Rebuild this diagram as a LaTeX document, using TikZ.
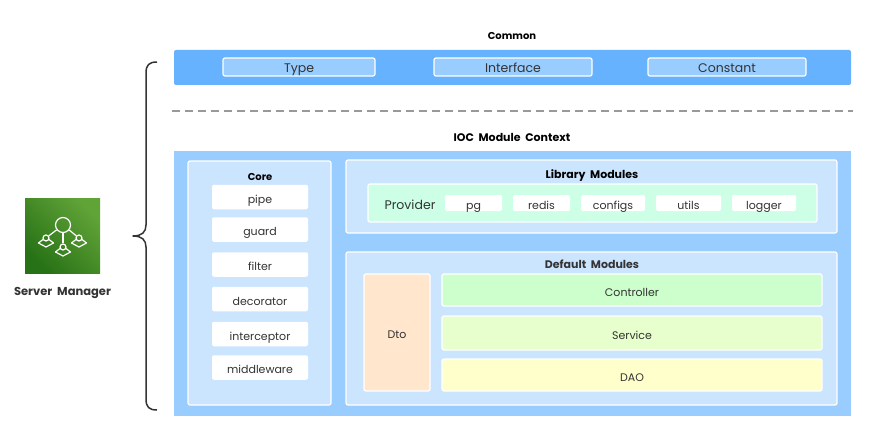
\documentclass[tikz,border=0pt]{standalone}
\usepackage{fontspec}
\setmainfont[WordSpace=2]{Poppins}
\definecolor{barblue}{HTML}{66B2FF}
\definecolor{midblue}{HTML}{99CCFF}
\definecolor{paleblue}{HTML}{CCE5FF}
\definecolor{mintgreen}{HTML}{CCFFE6}
\definecolor{ctrlgreen}{HTML}{CCFFCC}
\definecolor{svcgreen}{HTML}{E6FFCC}
\definecolor{daoyellow}{HTML}{FFFFCC}
\definecolor{dtoorange}{HTML}{FFE6CC}
\definecolor{ink}{HTML}{333333}
\definecolor{iconlight}{HTML}{60A337}
\definecolor{icondark}{HTML}{277116}
\tikzset{
  box/.style={draw=white, line width=1.2pt, rounded corners=2pt, inner sep=0pt, text=ink, text height=12pt, text depth=0pt, font=\fontsize{11}{13}\selectfont},
  title/.style={font=\fontsize{10}{12}\selectfont\bfseries, inner sep=0pt, text height=8pt, text depth=2pt},
  bigtitle/.style={title, font=\fontsize{11}{13}\selectfont\bfseries},
  item/.style={box, draw=none, fill=white},
  layerbox/.style={box, fill=paleblue},
  member/.style={circle, draw=white, line width=1.2pt, minimum size=6pt, inner sep=0pt},
}
\begin{document}
\begin{tikzpicture}[x=1pt, y=-1pt]
  \useasboundingbox (0,0) rectangle (877,441);

  % Common
  \node[title] (common) at (512,37) {Common};
  \node[box, draw=none, fill=barblue, minimum width=677pt, minimum height=35pt] (commonbar) at (512.5,67.5) {};
  \foreach \xpos/\wid/\name in {299/152/Type,513/158/Interface,727/158/Constant} {
    \node[box, fill=midblue, minimum width=\wid pt, minimum height=18pt, font=\fontsize{12.5}{14}\selectfont] (c\name) at (\xpos,67) {\name};
  }

  % Separator
  \coordinate (sepl) at (172,111);
  \coordinate (sepr) at (853,111);
  \draw[line width=1.5pt, color=black!40, dash pattern=on 8pt off 5pt] (sepl) -- (sepr);

  % IOC
  \node[bigtitle] (ioc) at (512,138) {IOC Module Context};
  \node[box, draw=none, rounded corners=0pt, fill=midblue, minimum width=677pt, minimum height=265pt] (iocbg) at (512.5,283.5) {};

  % Core
  \node[layerbox, minimum width=143pt, minimum height=244pt] (core) at (259.5,283) {};
  \node[title] (coretitle) at (260,177) {Core};
  \foreach \ypos/\name in {197/pipe,229.5/guard,264.5/filter,299/decorator,334/interceptor,367.5/middleware} {
    \node[item, minimum width=96pt, minimum height=24.5pt] (\name) at (260,\ypos) {\name};
  }

  % Library Modules
  \node[layerbox, minimum width=491pt, minimum height=73pt] (library) at (591.5,196.5) {};
  \node[bigtitle] (librarytitle) at (592,175) {Library Modules};
  \node[box, fill=mintgreen, minimum width=449pt, minimum height=38pt] (providerbar) at (592.5,203) {};
  \node[box, draw=none, fill=none, font=\fontsize{12.5}{14}\selectfont] (provider) at (410,203) {Provider};
  \foreach \xpos/\wid/\name in {473.5/57/pg,541.5/57/redis,613/64/configs,688.5/65/utils,764/64/logger} {
    \node[item, minimum width=\wid pt, minimum height=16pt] (\name) at (\xpos,203) {\name};
  }

  % Default Modules
  \node[layerbox, minimum width=491pt, minimum height=153pt] (default) at (591.5,328.5) {};
  \node[bigtitle, text=ink] (defaulttitle) at (592,265) {Default Modules};
  \node[box, fill=dtoorange, minimum width=66pt, minimum height=117pt] (dto) at (397,332.5) {Dto};
  \node[box, fill=ctrlgreen, minimum width=380pt, minimum height=32pt] (controller) at (632,290) {Controller};
  \node[box, fill=svcgreen, minimum width=380pt, minimum height=34pt] (service) at (632,333) {Service};
  \node[box, fill=daoyellow, minimum width=380pt, minimum height=32pt] (dao) at (632,375) {DAO};

  % Brace
  \coordinate (bracetop) at (157,62);
  \coordinate (bracetip) at (133,236);
  \coordinate (bracebot) at (157,410);
  \draw[line width=1.5pt, color=ink, line join=round] (bracetop) .. controls (149,62) and (146,65) .. (146,73)
    -- (146,225) .. controls (146,232) and (142,236) .. (bracetip)
    .. controls (142,236) and (146,240) .. (146,247)
    -- (146,399) .. controls (146,407) and (149,410) .. (bracebot);

  % Server Manager
  \node[inner sep=0pt, minimum size=75pt, top color=iconlight, bottom color=icondark, shading angle=-45] (icon) at (62.5,236) {};
  \node[member, minimum size=15pt] (hub) at (63,225) {};
  \foreach \xpos/\ypos/\name in {46/238/left,63/247/mid,79/238/right} {
    \node[member] (m\name) at (\xpos,\ypos) {};
    \draw[white, line width=1.2pt, line join=round] (\xpos-3,\ypos+1.5) -- (\xpos-7.5,\ypos+5) -- (\xpos,\ypos+9) -- (\xpos+7.5,\ypos+5) -- (\xpos+3,\ypos+1.5);
    \draw[white, line width=1.2pt] (hub) -- (m\name);
  }
  \node[bigtitle, text=ink, font=\fontsize{11.5}{13}\selectfont\bfseries] (server) at (62.5,292) {Server Manager};
\end{tikzpicture}
\end{document}
